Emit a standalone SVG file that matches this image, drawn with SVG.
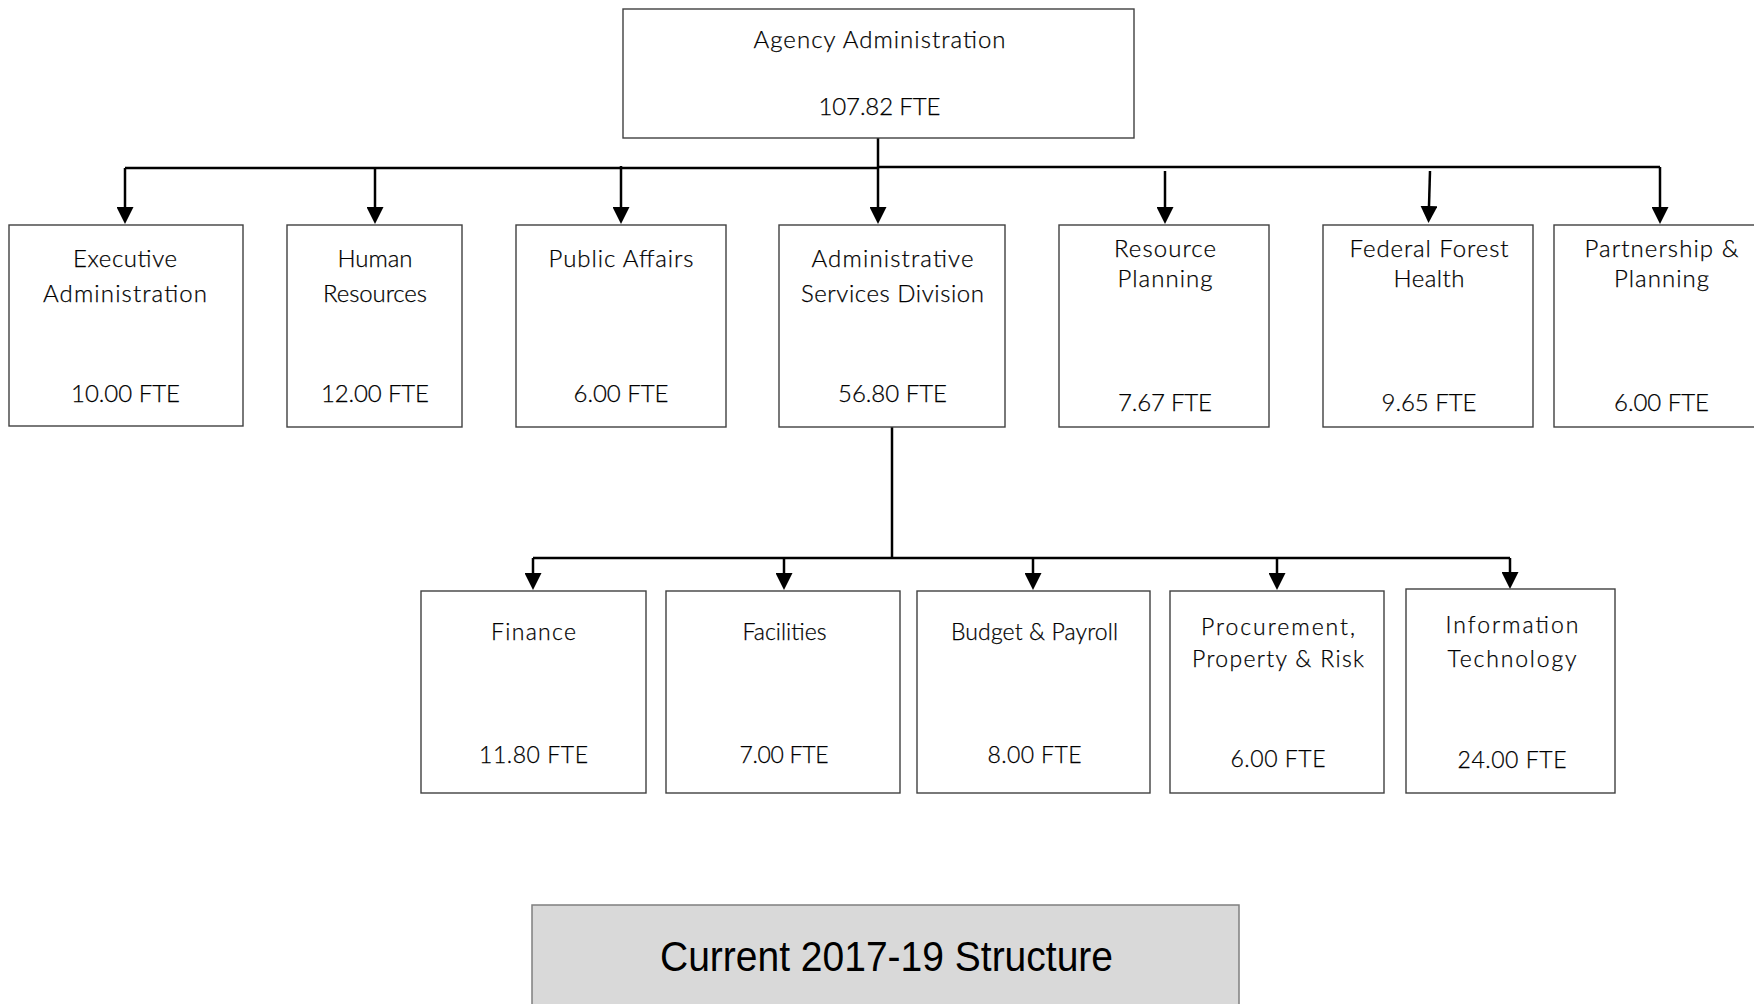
<svg xmlns="http://www.w3.org/2000/svg" width="1754" height="1004" viewBox="0 0 1754 1004">
  <defs>
    <marker id="arrow" viewBox="0 -8.5 17 17" refX="0" refY="0" markerWidth="17" markerHeight="17" markerUnits="userSpaceOnUse" orient="auto">
      <path d="M0,-8.5 L17,0 L0,8.5 z" fill="#000"/>
    </marker>
    <style>
      .box { fill: #fff; stroke: #404040; stroke-width: 1.4; }
      .lbl { font-family: Lato, "Open Sans", "Liberation Sans", sans-serif; font-weight: 300; font-size: 24px; fill: #000; stroke: #000; stroke-width: 0.25; text-anchor: middle; }
      .sm { font-size: 23px; }
      .wire { fill: none; stroke: #000; stroke-width: 2.5; }
      .drop { fill: none; stroke: #000; stroke-width: 2.5; marker-end: url(#arrow); }
      .title-box { fill: #d9d9d9; stroke: #7f7f7f; stroke-width: 1.5; }
      .title { font-family: "Liberation Sans", Arial, sans-serif; font-size: 42px; fill: #000; text-anchor: middle; }
    </style>
  </defs>
  <rect width="1754" height="1004" fill="#fff"/>

  <!-- connectors -->
  <g id="connectors">
    <!-- top level bus -->
    <path class="wire" d="M878,135 V168"/>
    <path class="drop" d="M125,168 V207"/>
    <path class="wire" d="M125,168 H878"/>
    <path class="wire" d="M878,167 H1660"/>
    <path class="drop" d="M1660,167 V207"/>
    <path class="drop" d="M375,168 V207"/>
    <path class="drop" d="M621,166 V207"/>
    <path class="drop" d="M878,167 V207"/>
    <path class="drop" d="M1165,171 V207"/>
    <path class="drop" d="M1430,171 L1429,206"/>
    <!-- administrative services bus -->
    <path class="wire" d="M892,427 V558"/>
    <path class="wire" d="M533,558 H1510"/>
    <path class="drop" d="M533,558 V573"/>
    <path class="drop" d="M784,558 V573"/>
    <path class="drop" d="M1033,558 V573"/>
    <path class="drop" d="M1277,558 V573"/>
    <path class="drop" d="M1510,558 V572"/>
  </g>

  <!-- top node -->
  <g id="agency-administration">
    <rect class="box" x="623" y="9" width="511" height="129"/>
    <text class="lbl" x="879.5" y="48" textLength="252">Agency Administration</text>
    <text class="lbl" x="879.5" y="115" textLength="122">107.82 FTE</text>
  </g>

  <!-- second row -->
  <g id="executive-administration">
    <rect class="box" x="9" y="225" width="234" height="201"/>
    <text class="lbl" x="125" y="267" textLength="104">Executive</text>
    <text class="lbl" x="125" y="301.5" textLength="164">Administration</text>
    <text class="lbl" x="125.5" y="402" textLength="109">10.00 FTE</text>
  </g>
  <g id="human-resources">
    <rect class="box" x="287" y="225" width="175" height="202"/>
    <text class="lbl" x="375" y="267" textLength="75">Human</text>
    <text class="lbl" x="375" y="301.5" textLength="104">Resources</text>
    <text class="lbl" x="375" y="402" textLength="108">12.00 FTE</text>
  </g>
  <g id="public-affairs">
    <rect class="box" x="516" y="225" width="210" height="202"/>
    <text class="lbl" x="621" y="267" textLength="145">Public Affairs</text>
    <text class="lbl" x="621" y="402" textLength="95">6.00 FTE</text>
  </g>
  <g id="administrative-services-division">
    <rect class="box" x="779" y="225" width="226" height="202"/>
    <text class="lbl" x="892.5" y="267" textLength="162">Administrative</text>
    <text class="lbl" x="892.5" y="301.5" textLength="183">Services Division</text>
    <text class="lbl" x="892.5" y="402" textLength="109">56.80 FTE</text>
  </g>
  <g id="resource-planning">
    <rect class="box" x="1059" y="225" width="210" height="202"/>
    <text class="lbl" x="1165" y="257" textLength="102">Resource</text>
    <text class="lbl" x="1165" y="287" textLength="95">Planning</text>
    <text class="lbl" x="1165" y="411" textLength="94">7.67 FTE</text>
  </g>
  <g id="federal-forest-health">
    <rect class="box" x="1323" y="225" width="210" height="202"/>
    <text class="lbl" x="1429" y="257" textLength="159">Federal Forest</text>
    <text class="lbl" x="1429" y="287" textLength="71">Health</text>
    <text class="lbl" x="1429" y="411" textLength="95">9.65 FTE</text>
  </g>
  <g id="partnership-planning">
    <rect class="box" x="1554" y="225" width="220" height="202"/>
    <text class="lbl" x="1661.5" y="257" textLength="154">Partnership &amp;</text>
    <text class="lbl" x="1661.5" y="287" textLength="95">Planning</text>
    <text class="lbl" x="1661.5" y="411" textLength="95">6.00 FTE</text>
  </g>

  <!-- third row -->
  <g id="finance">
    <rect class="box" x="421" y="591" width="225" height="202"/>
    <text class="lbl sm" x="533.5" y="640" textLength="85">Finance</text>
    <text class="lbl sm" x="533.5" y="763" textLength="109">11.80 FTE</text>
  </g>
  <g id="facilities">
    <rect class="box" x="666" y="591" width="234" height="202"/>
    <text class="lbl sm" x="784.5" y="640" textLength="84">Facilities</text>
    <text class="lbl sm" x="784" y="763" textLength="89">7.00 FTE</text>
  </g>
  <g id="budget-payroll">
    <rect class="box" x="917" y="591" width="233" height="202"/>
    <text class="lbl sm" x="1034.5" y="640" textLength="167">Budget &amp; Payroll</text>
    <text class="lbl sm" x="1034.5" y="763" textLength="94">8.00 FTE</text>
  </g>
  <g id="procurement-property-risk">
    <rect class="box" x="1170" y="591" width="214" height="202"/>
    <text class="lbl sm" x="1278" y="635" textLength="154">Procurement,</text>
    <text class="lbl sm" x="1278" y="667" textLength="172">Property &amp; Risk</text>
    <text class="lbl sm" x="1278" y="767" textLength="95">6.00 FTE</text>
  </g>
  <g id="information-technology">
    <rect class="box" x="1406" y="589" width="209" height="204"/>
    <text class="lbl sm" x="1512" y="633" textLength="133">Information</text>
    <text class="lbl sm" x="1512" y="667" textLength="129">Technology</text>
    <text class="lbl sm" x="1512" y="768" textLength="109">24.00 FTE</text>
  </g>

  <!-- caption -->
  <g id="caption">
    <rect class="title-box" x="532" y="905" width="707" height="110"/>
    <text class="title" x="886.5" y="971" textLength="453" lengthAdjust="spacingAndGlyphs">Current 2017-19 Structure</text>
  </g>
</svg>
